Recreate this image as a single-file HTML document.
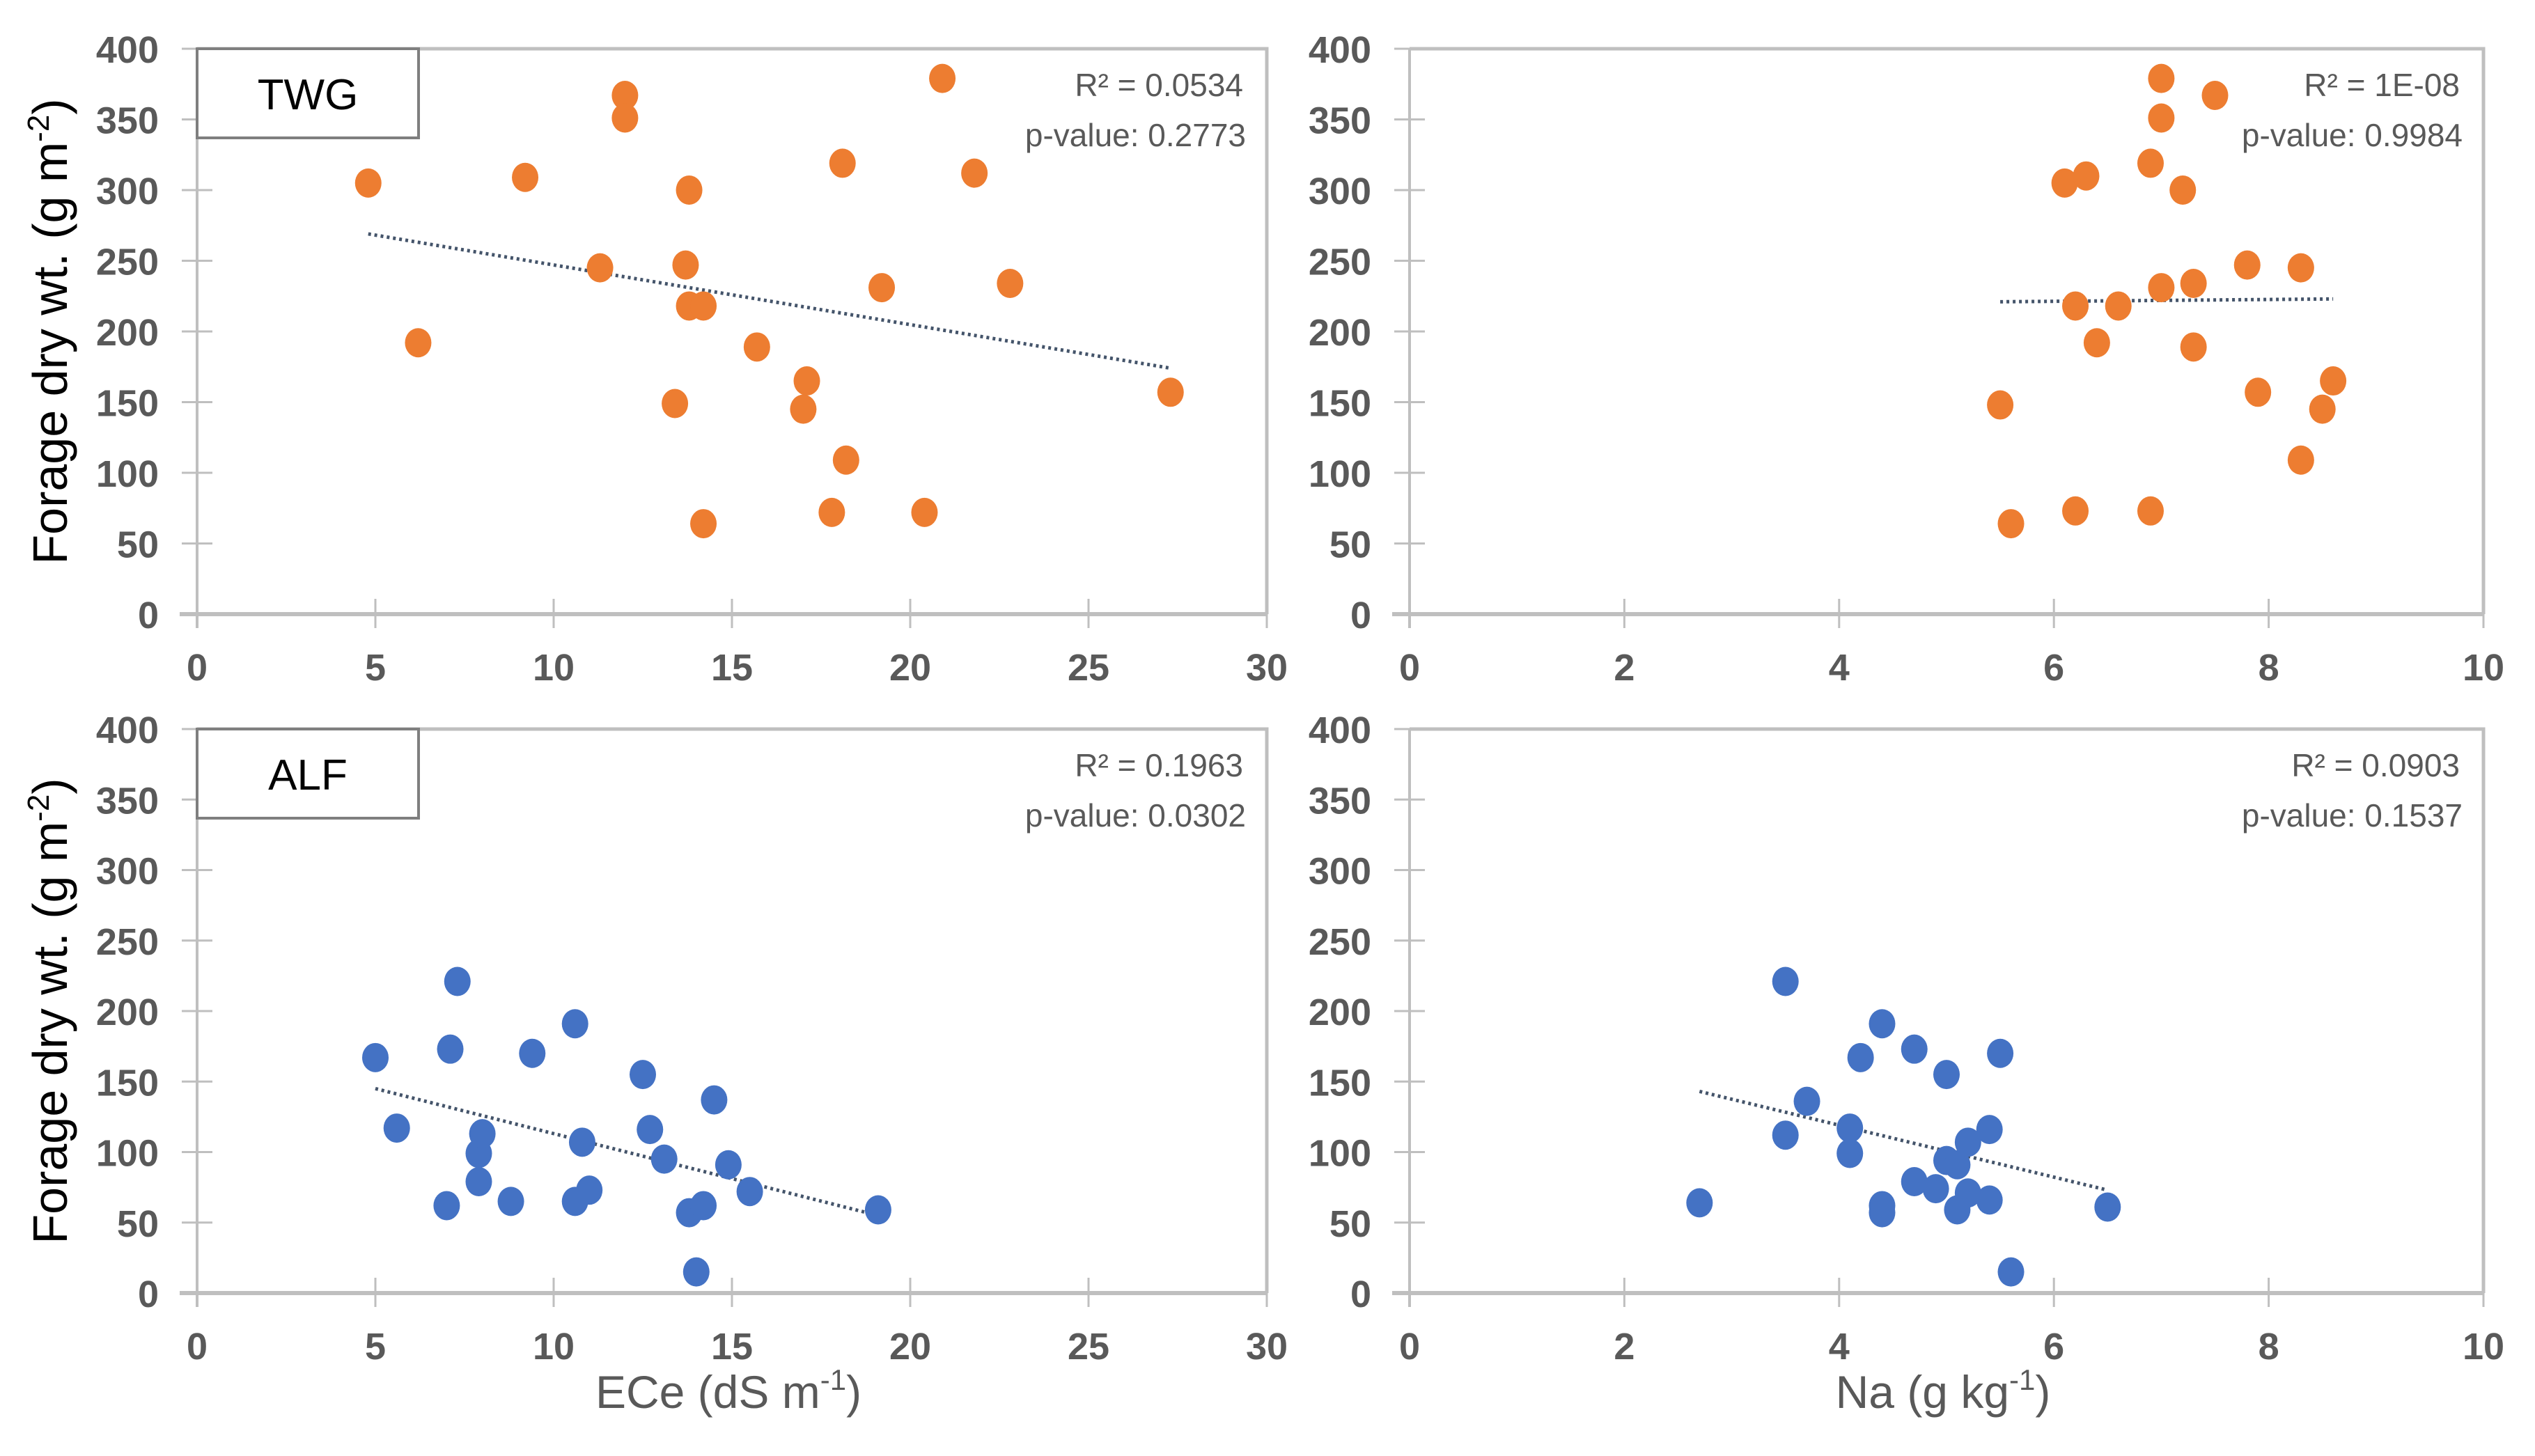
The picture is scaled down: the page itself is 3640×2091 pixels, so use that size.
<!DOCTYPE html>
<html><head><meta charset="utf-8"><style>
html,body{margin:0;padding:0;background:#fff;}
svg{display:block;font-family:"Liberation Sans",sans-serif;}
</style></head><body>
<svg id="chart" width="3640" height="2091" viewBox="0 0 3640 2091" xmlns="http://www.w3.org/2000/svg"></svg>
<script>
const twgEce = [4.8,6.2,9.2,11.3,12.0,12.0,13.4,13.7,13.8,13.8,14.2,14.2,15.7,17.0,17.1,17.8,18.1,18.2,19.2,20.4,20.9,21.8,22.8,27.3];
const twgEceY = [305,192,309,245,367,351,149,247,300,218,218,64,189,145,165,72,319,109,231,72,379,312,234,157];
const twgNa = [5.5,5.6,6.1,6.2,6.2,6.3,6.4,6.6,6.9,6.9,7.0,7.0,7.0,7.2,7.3,7.3,7.5,7.8,7.9,8.3,8.3,8.5,8.6];
const twgNaY = [148,64,305,218,73,310,192,218,319,73,379,351,231,300,234,189,367,247,157,245,109,145,165];
const alfEce = [5.0,5.6,7.0,7.1,7.3,7.9,7.9,8.0,8.8,9.4,10.6,10.6,10.8,11.0,12.5,12.7,13.1,13.8,14.0,14.2,14.5,14.9,15.5,19.1];
const alfEceY = [167,117,62,173,221,79,99,113,65,170,191,65,107,73,155,116,95,57,15,62,137,91,72,59];
const alfNa = [2.7,3.5,3.5,3.7,4.1,4.1,4.2,4.4,4.4,4.4,4.7,4.7,4.9,5.0,5.0,5.1,5.1,5.2,5.2,5.4,5.4,5.5,5.6,6.5];
const alfNaY = [64,221,112,136,117,99,167,191,62,57,173,79,74,155,94,91,59,107,71,116,66,170,15,61];
const trendTwgEce = [[4.8,269],[27.3,174]];
const trendTwgNa = [[5.5,221],[8.6,223]];
const trendAlfEce = [[5.0,145],[19.1,55]];
const trendAlfNa = [[2.7,143],[6.5,73]];
const yTicks = [0,50,100,150,200,250,300,350,400];
const eceTicks = [0,5,10,15,20,25,30];
const naTicks = [0,2,4,6,8,10];
const stats = [["R² = 0.0534","p-value:  0.2773"],["R² = 1E-08","p-value:  0.9984"],["R² = 0.1963","p-value:  0.0302"],["R² = 0.0903","p-value:  0.1537"]];

const NS="http://www.w3.org/2000/svg";
const svg=document.getElementById('chart');
function mk(tag,attrs,parent){const e=document.createElementNS(NS,tag);for(const k in attrs)e.setAttribute(k,attrs[k]);(parent||svg).appendChild(e);return e;}

const panels=[
 {name:'twg-ece',x0:283,x1:1819,xmax:30,xt:eceTicks,y0:882,y1:70,xs:twgEce,ys:twgEceY,tr:trendTwgEce,col:'#ED7D31',st:stats[0],lab:'TWG',ylab:true},
 {name:'twg-na',x0:2024,x1:3566,xmax:10,xt:naTicks,y0:882,y1:70,xs:twgNa,ys:twgNaY,tr:trendTwgNa,col:'#ED7D31',st:stats[1]},
 {name:'alf-ece',x0:283,x1:1819,xmax:30,xt:eceTicks,y0:1857,y1:1047,xs:alfEce,ys:alfEceY,tr:trendAlfEce,col:'#4472C4',st:stats[2],lab:'ALF',ylab:true,xlab:'ECe'},
 {name:'alf-na',x0:2024,x1:3566,xmax:10,xt:naTicks,y0:1857,y1:1047,xs:alfNa,ys:alfNaY,tr:trendAlfNa,col:'#4472C4',st:stats[3],xlab:'Na'}
];

panels.forEach(p=>{
  const g=mk('g',{});
  
  
  const sx=v=>p.x0+(p.x1-p.x0)*v/p.xmax;
  const sy=v=>p.y0-(p.y0-p.y1)*v/400;
  const fr=mk('path',{d:`M${p.x0} ${p.y1} H${p.x1} V${p.y0}`,fill:'none',stroke:'#BFBFBF','stroke-width':5},g);
  
  
  const ax=mk('line',{x1:p.x0-25,x2:p.x1,y1:p.y0,y2:p.y0,stroke:'#BFBFBF','stroke-width':6},g);
  
  
  const ay=mk('line',{x1:p.x0,x2:p.x0,y1:p.y1,y2:p.y0+20,stroke:'#BFBFBF','stroke-width':4},g);
  
  
  yTicks.forEach(t=>{
    mk('line',{x1:p.x0-22,x2:p.x0+22,y1:sy(t),y2:sy(t),stroke:'#BFBFBF','stroke-width':3},g);
    const tx=mk('text',{x:p.x0-55,y:sy(t)+20,'text-anchor':'end','font-size':54,'font-weight':'bold',fill:'#595959'},g);
    tx.textContent=t;
    
    
  });
  p.xt.forEach(t=>{
    mk('line',{x1:sx(t),x2:sx(t),y1:p.y0-22,y2:p.y0+20,stroke:'#BFBFBF','stroke-width':3},g);
    const tx=mk('text',{x:sx(t),y:p.y0+95,'text-anchor':'middle','font-size':54,'font-weight':'bold',fill:'#595959'},g);
    tx.textContent=t;
    
    
  });
  const tl=mk('line',{x1:sx(p.tr[0][0]),y1:sy(p.tr[0][1]),x2:sx(p.tr[1][0]),y2:sy(p.tr[1][1]),stroke:'#44546A','stroke-width':5,'stroke-dasharray':'4 5'},g);
  
  
  p.xs.forEach((v,i)=>{
    const c=mk('ellipse',{cx:sx(v),cy:sy(p.ys[i]),rx:19,ry:21,fill:p.col},g);
    
    
  });
  const t1=mk('text',{x:p.x1-34,y:p.y1+68,'text-anchor':'end','font-size':46,fill:'#595959'},g);
  t1.textContent=p.st[0];
  
  
  const t2=mk('text',{x:p.x1-30,y:p.y1+140,'text-anchor':'end','font-size':46,fill:'#595959'},g);
  t2.textContent=p.st[1];
  
  
  if(p.lab){
    const b=mk('rect',{x:p.x0,y:p.y1,width:318,height:128,fill:'#fff',stroke:'#7F7F7F','stroke-width':4},g);
    
    
    const lt=mk('text',{x:p.x0+159,y:p.y1+87,'text-anchor':'middle','font-size':62,fill:'#000'},g);
    lt.textContent=p.lab;
    
    
  }
  if(p.ylab){
    const cy=(p.y0+p.y1)/2;
    const yt=mk('text',{x:0,y:0,transform:`translate(96 ${cy}) rotate(-90)`,'text-anchor':'middle','font-size':70,fill:'#000'},g);
    yt.innerHTML='Forage dry wt. (g m<tspan dy="-26" font-size="44">-2</tspan><tspan dy="26">)</tspan>';
    
    
  }
  if(p.xlab){
    const xt=mk('text',{x:(p.x0+p.x1)/2-5,y:2022,'text-anchor':'middle','font-size':66,fill:'#595959'},g);
    xt.innerHTML = p.xlab==='ECe' ? 'ECe (dS m<tspan dy="-26" font-size="42">-1</tspan><tspan dy="26">)</tspan>' : 'Na (g kg<tspan dy="-26" font-size="42">-1</tspan><tspan dy="26">)</tspan>';
    
    
  }
});
</script>
</body></html>
